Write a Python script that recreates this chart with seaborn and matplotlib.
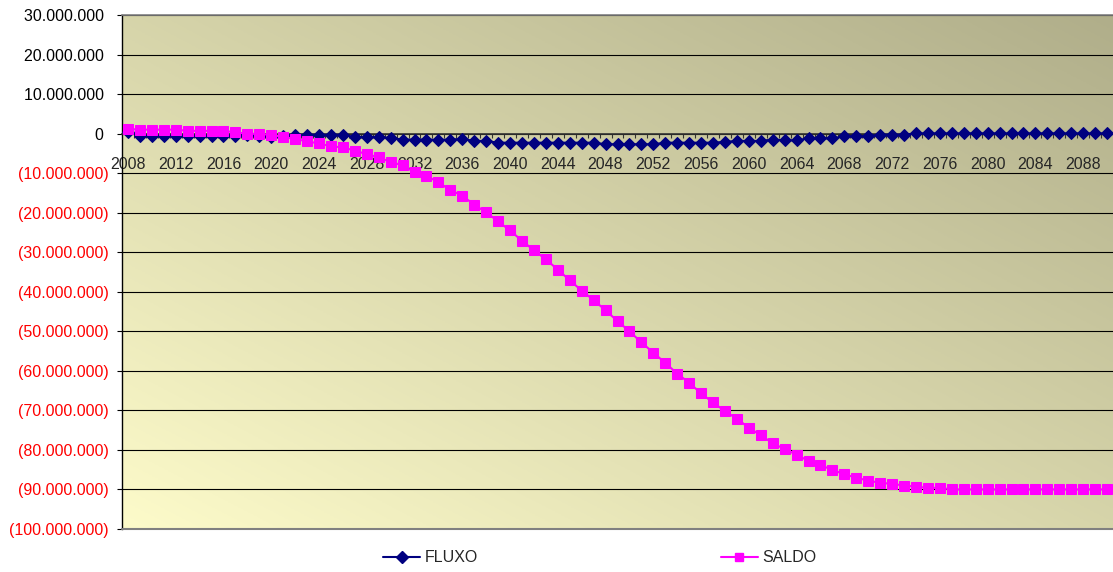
import matplotlib
matplotlib.use("Agg")
import matplotlib.pyplot as plt
import matplotlib.ticker as mticker
from matplotlib.lines import Line2D
import numpy as np
import pandas as pd
import seaborn as sns

# values in millions, one per year
years = list(range(2008, 2091))
fluxo = ([0.3] + [-0.5] * 9 + [-0.3, -0.5, -0.85, -0.5]
         + [-0.3] * 5 + [-0.85] * 3 + [-1.1, -1.5, -1.5, -1.5, -1.6, -1.5, -1.35, -1.85, -1.85]
         + [-2.3] * 9 + [-2.7] * 5 + [-2.3] * 5 + [-2.1, -1.85, -1.85, -1.85, -1.5, -1.7, -1.7]
         + [-1.2] * 3 + [-0.7] * 3 + [-0.25] * 3 + [0.05] * 17)
saldo = ([1.2, 1.0, 1.0, 1.0, 1.0, 0.7, 0.7, 0.7, 0.7, 0.3, 0.0, -0.1, -0.3, -0.85,
          -1.35, -1.95, -2.5, -3.2, -3.5, -4.3, -5.2, -6.0, -7.2, -8.0, -9.8, -10.7,
          -12.3, -14.3, -15.7, -18.0, -19.9, -22.2, -24.5, -27.1, -29.5, -31.8, -34.4,
          -37.1, -39.7, -42.1, -44.7, -47.4, -50.0, -52.8, -55.4, -58.0, -60.7, -63.0,
          -65.7, -68.0, -70.2, -72.1, -74.4, -76.3, -78.3, -79.8, -81.2, -82.8, -83.9,
          -85.0, -86.2, -87.0, -87.8, -88.3, -88.6, -89.0, -89.3, -89.6, -89.6, -90.0]
         + [-90.0] * 13)
series_names = ["FLUXO", "SALDO"]
series_colors = ["#000080", "#FF00FF"]
y_ticks = list(range(-100_000_000, 30_000_001, 10_000_000))

df = pd.DataFrame({"ano": years,
                   "FLUXO": np.array(fluxo) * 1e6,
                   "SALDO": np.array(saldo) * 1e6})

sns.set_style("white")
plt.rcParams["font.family"] = ["Liberation Sans", "DejaVu Sans"]
plt.rcParams["font.size"] = 11.5

fig = plt.figure(figsize=(11.13, 5.72), dpi=100)
ax = fig.add_axes([122 / 1113, 1 - 529 / 572, 991 / 1113, 514 / 572])

# diagonal gradient background, light yellow bottom-left to olive top-right
gx, gy = np.meshgrid(np.linspace(0, 1, 300), np.linspace(0, 1, 200))
t = (gx + gy) / 2
c0 = np.array([253, 251, 202]) / 255
c1 = np.array([176, 174, 138]) / 255
grad = c0 + t[..., None] * (c1 - c0)
ax.imshow(grad, extent=[0, 1, 0, 1], origin="lower", transform=ax.transAxes,
          aspect="auto", zorder=0)

sns.lineplot(data=df, x="ano", y="FLUXO", ax=ax, color=series_colors[0], lw=1.5,
             marker="D", markersize=6.2, markeredgecolor=series_colors[0], zorder=3)
sns.lineplot(data=df, x="ano", y="SALDO", ax=ax, color=series_colors[1], lw=1.5,
             marker="s", markersize=7, markeredgecolor=series_colors[1], zorder=4)

ax.set_xlim(years[0] - 0.5, years[-1] + 0.5)
ax.set_ylim(y_ticks[0], y_ticks[-1])
ax.set_xlabel("")
ax.set_ylabel("")

ax.set_yticks(y_ticks)


def fmt(v, pos):
    s = f"{abs(v):,.0f}".replace(",", ".")
    return f"({s})" if v < 0 else s + " "


ax.yaxis.set_major_formatter(mticker.FuncFormatter(fmt))
for lab, v in zip(ax.get_yticklabels(), y_ticks):
    lab.set_color("#FF0000" if v < 0 else "black")
ax.tick_params(axis="y", length=3.8, width=0.8, color="black", pad=6, left=True)

ax.set_xticks(years[::4])
ax.set_xticks([y + 0.5 for y in years[:-1]], minor=True)
ax.xaxis.set_major_formatter(mticker.FuncFormatter(lambda v, p: f"{int(v)}"))
ax.tick_params(axis="x", which="major", length=0, pad=17, bottom=True)
ax.tick_params(axis="x", which="minor", length=3, width=0.8, color="#333333",
               direction="out", bottom=True)

ax.yaxis.grid(True, color="black", lw=0.8)
ax.xaxis.grid(False)
ax.set_axisbelow(True)

ax.spines["bottom"].set_position(("data", 0))
ax.spines["bottom"].set_color("#333333")
ax.spines["bottom"].set_linewidth(1.2)
ax.spines["left"].set_color("black")
ax.spines["left"].set_linewidth(1.0)
ax.spines["top"].set_color("#808080")
ax.spines["top"].set_linewidth(1.2)
ax.spines["right"].set_visible(False)
ax.plot([0, 1], [0, 0], transform=ax.transAxes, color="#808080", lw=1.5,
        clip_on=False, zorder=5)

handles = [Line2D([], [], color=series_colors[0], lw=1.5, marker="D", markersize=6),
           Line2D([], [], color=series_colors[1], lw=1.5, marker="s", markersize=6)]
fig.legend(handles, series_names, loc="center", bbox_to_anchor=(600 / 1113, 1 - 558 / 572),
           ncol=2, frameon=False, handlelength=2.3, handletextpad=0.3,
           columnspacing=15.2, fontsize=11.5)

fig.savefig("out.png", dpi=100)
